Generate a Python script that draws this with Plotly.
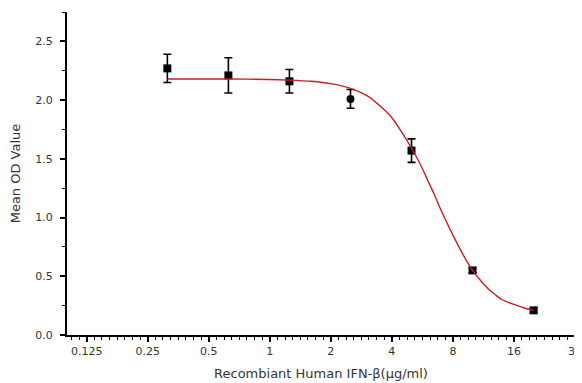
import plotly.graph_objects as go

# Measured data
conc = [0.3125, 0.625, 1.25, 2.5, 5, 10, 20]
od_mean = [2.27, 2.21, 2.16, 2.01, 1.57, 0.55, 0.21]
od_err = [0.12, 0.15, 0.10, 0.08, 0.10, 0.02, 0.02]
symbols = ["square", "square", "square", "circle", "square", "square", "square"]

# Fitted curve
fit_x = [0.3125, 0.625, 1.0, 1.25, 1.6, 2.0, 2.5, 3.0, 3.5, 4.0, 4.5, 5.0, 5.5, 6.0,
         6.5, 7.0, 7.5, 8.0, 9.0, 10, 11, 12, 13, 14, 16, 18, 20]
fit_y = [2.18, 2.18, 2.175, 2.17, 2.16, 2.14, 2.10, 2.04, 1.95, 1.85, 1.72, 1.59, 1.46, 1.32,
         1.19, 1.06, 0.95, 0.85, 0.68, 0.55, 0.46, 0.39, 0.34, 0.30, 0.26, 0.23, 0.21]

x_tickvals = [0.125, 0.25, 0.5, 1, 2, 4, 8, 16, 32]
x_ticktext = ["0.125", "0.25", "0.5", "1", "2", "4", "8", "16", "32"]
y_tickvals = [0.0, 0.5, 1.0, 1.5, 2.0, 2.5]
y_ticktext = ["0.0", "0.5", "1.0", "1.5", "2.0", "2.5"]

# minor tick positions (8 per doubling)
minor_x = []
base = 0.0625
for k in range(0, 8 * 10):
    v = base * 2 ** (k / 8)
    if 0.1 <= v <= 32.01:
        minor_x.append(v)

fig = go.Figure()
fig.add_trace(go.Scatter(
    x=conc, y=od_mean, mode="markers",
    marker=dict(symbol=symbols, size=8, color="black"),
    error_y=dict(type="data", array=od_err, color="black", thickness=1.6, width=4),
    showlegend=False, cliponaxis=False,
))
fig.add_trace(go.Scatter(
    x=fit_x, y=fit_y, mode="lines",
    line=dict(color="#c8202a", width=1.4, shape="spline", smoothing=0.8),
    showlegend=False,
))

tick_font = dict(family="DejaVu Sans, sans-serif", size=11, color="#333")
title_font = dict(family="DejaVu Sans, sans-serif", size=13, color="#333")

# page body has an 8px margin; the figure is sized/offset to compensate
fig.update_layout(
    width=574, height=375,
    margin=dict(l=59, r=7, t=4, b=48),
    plot_bgcolor="white", paper_bgcolor="white",
    font=tick_font,
    xaxis=dict(
        type="log", range=[-1, 1.50515],
        tickvals=x_tickvals, ticktext=x_ticktext,
        showgrid=False, zeroline=False,
        showline=True, linecolor="black", linewidth=2,
        ticks="outside", ticklen=5, tickwidth=1.5, tickcolor="black",
        ticklabelstandoff=0,
        minor=dict(tickvals=minor_x, ticks="outside", ticklen=3, tickwidth=1, tickcolor="black", showgrid=False),
        title=dict(text="Recombiant Human IFN-β(μg/ml)", font=title_font, standoff=12),
        automargin=False,
    ),
    yaxis=dict(
        range=[0, 2.75],
        tickvals=y_tickvals, ticktext=y_ticktext,
        showgrid=False, zeroline=False,
        showline=True, linecolor="black", linewidth=2,
        ticks="outside", ticklen=5, tickwidth=1.5, tickcolor="black",
        ticklabelstandoff=5,
        minor=dict(dtick=0.25, ticks="outside", ticklen=3, tickwidth=1, tickcolor="black", showgrid=False),
        title=dict(text="Mean OD Value", font=title_font, standoff=12),
        automargin=False,
    ),
)

fig.write_html("out.html")
